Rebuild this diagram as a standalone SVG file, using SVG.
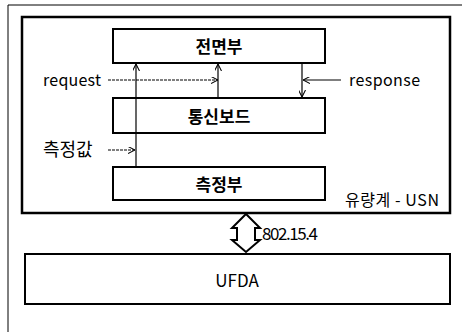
<svg xmlns="http://www.w3.org/2000/svg" width="462" height="332" viewBox="0 0 462 332">
<defs>
<style>
.box{fill:#fff;stroke:#000;stroke-width:2}
.frame{fill:none;stroke:#000;stroke-width:1}
.usn{fill:none;stroke:#000;stroke-width:2.5}
.kt{font-family:"Noto Sans CJK KR","Noto Sans",sans-serif;font-size:17px;font-weight:bold;fill:#000;text-anchor:middle;dominant-baseline:central}
.lbl{font-family:"Noto Sans CJK KR","Noto Sans",sans-serif;font-size:16px;fill:#000;dominant-baseline:central}
.ln{fill:none;stroke:#000;stroke-width:1.2}
.dash{stroke-dasharray:3 1}
</style>
<marker id="ah" viewBox="0 0 10 10" refX="10" refY="5" markerWidth="7" markerHeight="7" orient="auto" markerUnits="userSpaceOnUse">
<path d="M0,0 L10,5 L0,10" fill="none" stroke="#000" stroke-width="1.5"/>
</marker>
</defs>
<rect width="462" height="332" fill="#fff"/>
<path class="frame" d="M8,332 V5 H462"/>
<g id="usn">
<rect class="usn" x="22" y="17" width="428" height="196"/>
<text class="lbl" x="345" y="199" textLength="94" lengthAdjust="spacing">유량계 - USN</text>
</g>
<g id="front">
<rect class="box" x="113" y="29" width="212" height="34"/>
<text class="kt" x="219" y="45">전면부</text>
</g>
<g id="comm">
<rect class="box" x="113" y="98" width="212" height="35"/>
<text class="kt" x="219" y="115">통신보드</text>
</g>
<g id="measure">
<rect class="box" x="113" y="167" width="212" height="33"/>
<text class="kt" x="219" y="183">측정부</text>
</g>
<g id="ufda">
<rect class="box" x="25" y="254" width="425" height="50"/>
<text class="kt" x="237" y="279" style="font-weight:normal">UFDA</text>
</g>
<g id="connectors">
<line class="ln" x1="136" y1="167" x2="136" y2="64" marker-end="url(#ah)"/>
<line class="ln" x1="218" y1="98" x2="218" y2="64" marker-end="url(#ah)"/>
<line class="ln" x1="302" y1="63" x2="302" y2="97" marker-end="url(#ah)"/>
<line class="ln dash" x1="108" y1="80" x2="218" y2="80" marker-end="url(#ah)"/>
<line class="ln" x1="341" y1="80" x2="303" y2="80" marker-end="url(#ah)"/>
<line class="ln dash" x1="108" y1="150" x2="135" y2="150" marker-end="url(#ah)"/>
<polygon points="246,214 260,228 255,228 255,240 260,240 246,252 232,240 237,240 237,228 232,228" fill="#fff" stroke="#000" stroke-width="2" stroke-linejoin="miter"/>
</g>
<text class="lbl" x="43" y="79" textLength="58" lengthAdjust="spacing">request</text>
<text class="lbl" x="349" y="79" textLength="71" lengthAdjust="spacing">response</text>
<text class="lbl" x="43" y="148" style="font-size:18px">측정값</text>
<text class="lbl" x="262" y="232" style="font-size:17px" textLength="56" lengthAdjust="spacing">802.15.4</text>
</svg>
